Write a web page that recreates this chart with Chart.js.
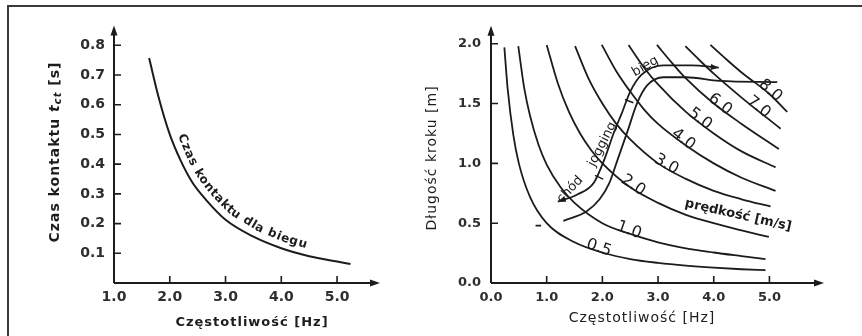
<!DOCTYPE html>
<html>
<head>
<meta charset="utf-8">
<script src="https://cdn.jsdelivr.net/npm/chart.js@4.4.0/dist/chart.umd.min.js"></script>
<style>
    html, body { margin: 0; padding: 0; background: #fff; }
    #frame { position: absolute; left: 7px; top: 5px; width: 870px; height: 350px; border-top: 2px solid #3a3a3a; border-left: 2px solid #3a3a3a; }
    #wykresKontakt { position: absolute; left: 10px; top: 8px; }
    #wykresKrok { position: absolute; left: 420px; top: 8px; }
</style>
</head>
<body>
<div id="frame"></div>
<canvas id="wykresKontakt" width="410" height="328"></canvas>
<canvas id="wykresKrok" width="442" height="328"></canvas>
<script>
// --- dane: czas kontaktu (lewy wykres) ---
const czestKontakt = [1.63, 1.8, 2.0, 2.2, 2.4, 2.65, 3.0, 3.5, 4.0, 4.5, 5.0, 5.24];
const czasKontaktu = [0.757, 0.625, 0.5, 0.41, 0.34, 0.28, 0.213, 0.156, 0.117, 0.09, 0.072, 0.064];
const lewyTicksX = [1, 2, 3, 4, 5];
const lewyTicksY = [0.1, 0.2, 0.3, 0.4, 0.5, 0.6, 0.7, 0.8];

// --- dane: dlugosc kroku dla stalych predkosci (prawy wykres), pary [Hz, m] ---
const v05 = [[0.24, 1.97], [0.3, 1.62], [0.4, 1.24], [0.5, 1.0], [0.7, 0.72], [1.0, 0.5], [1.5, 0.34], [2.0, 0.255], [2.5, 0.2], [3.0, 0.168], [3.5, 0.145], [4.0, 0.128], [4.5, 0.115], [4.93, 0.107]];
const v10 = [[0.49, 1.98], [0.6, 1.62], [0.7, 1.4], [0.85, 1.16], [1.0, 0.99], [1.25, 0.8], [1.5, 0.67], [2.0, 0.5], [2.5, 0.41], [3.0, 0.34], [3.5, 0.29], [4.0, 0.255], [4.5, 0.225], [4.93, 0.2]];
const v20 = [[1.0, 1.99], [1.2, 1.67], [1.4, 1.43], [1.6, 1.25], [1.8, 1.11], [2.0, 1.0], [2.5, 0.8], [3.0, 0.67], [3.5, 0.57], [4.0, 0.5], [4.5, 0.44], [4.99, 0.385]];
const v30 = [[1.51, 1.98], [1.75, 1.71], [2.0, 1.5], [2.25, 1.33], [2.5, 1.2], [3.0, 1.0], [3.5, 0.87], [4.0, 0.77], [4.5, 0.7], [5.02, 0.64]];
const v40 = [[1.99, 1.99], [2.25, 1.77], [2.5, 1.6], [2.75, 1.45], [3.0, 1.33], [3.5, 1.15], [4.0, 1.0], [4.5, 0.88], [5.11, 0.77]];
const v50 = [[2.47, 1.99], [2.75, 1.8], [3.0, 1.66], [3.5, 1.43], [4.0, 1.25], [4.5, 1.1], [5.11, 0.967]];
const v60 = [[2.98, 1.99], [3.25, 1.84], [3.5, 1.71], [4.0, 1.5], [4.5, 1.33], [5.17, 1.12]];
const v70 = [[3.49, 1.98], [3.75, 1.86], [4.0, 1.75], [4.5, 1.55], [5.2, 1.29]];
const v80 = [[3.94, 1.99], [4.25, 1.86], [4.5, 1.76], [5.0, 1.58], [5.32, 1.43]];
const predkosci = ['0.5', '1.0', '2.0', '3.0', '4.0', '5.0', '6.0', '7.0', '8.0'];
const krzywePredkosci = [v05, v10, v20, v30, v40, v50, v60, v70, v80];
const czestEtykiet = [1.92, 2.46, 2.52, 3.12, 3.42, 3.72, 4.08, 4.77, 4.98];

// przejscie chod -> jogging -> bieg
const przejscieGorne = [[1.2, 0.68], [1.55, 0.74], [1.85, 0.84], [2.05, 1.05], [2.2, 1.25], [2.35, 1.42], [2.5, 1.6], [2.7, 1.74], [3.1, 1.82], [3.6, 1.82], [4.09, 1.8]];
const przejscieDolne = [[1.3, 0.52], [1.72, 0.6], [1.95, 0.7], [2.12, 0.83], [2.28, 1.04], [2.46, 1.28], [2.62, 1.5], [2.8, 1.65], [3.1, 1.72], [3.5, 1.72], [4.1, 1.69], [5.14, 1.68]];
const kreska = [[0.8, 0.48], [0.9, 0.48]];
const znacznikiFaz = [1.9, 2.44];
const prawyTicksX = [0, 1, 2, 3, 4, 5];
const prawyTicksY = [0, 0.5, 1.0, 1.5, 2.0];

const ink = '#1c1c1c';
const FONT = 'DejaVu Sans';

function strzalka(ctx, x, y, kat, dl, sz) {
    ctx.save();
    ctx.translate(x, y);
    ctx.rotate(kat);
    ctx.beginPath();
    ctx.moveTo(0, 0);
    ctx.lineTo(-dl, -sz);
    ctx.lineTo(-dl, sz);
    ctx.closePath();
    ctx.fill();
    ctx.restore();
}

// punkt na lamanej w odleglosci d od poczatku
function punktNaSciezce(pts, d) {
    let acc = 0;
    for (let i = 1; i < pts.length; i++) {
        const dx = pts[i].x - pts[i - 1].x, dy = pts[i].y - pts[i - 1].y;
        const L = Math.hypot(dx, dy);
        if (acc + L >= d || i === pts.length - 1) {
            const t = L ? (d - acc) / L : 0;
            return { x: pts[i - 1].x + dx * t, y: pts[i - 1].y + dy * t };
        }
        acc += L;
    }
}

function dystansDoX(pts, px) {
    let acc = 0;
    for (let i = 1; i < pts.length; i++) {
        const dx = pts[i].x - pts[i - 1].x, dy = pts[i].y - pts[i - 1].y;
        const L = Math.hypot(dx, dy);
        if (pts[i].x >= px) return acc + L * (px - pts[i - 1].x) / dx;
        acc += L;
    }
    return acc;
}

function tekstNaSciezce(ctx, pts, tekst, start, odstep, rozstaw) {
    let s = start;
    for (const ch of tekst) {
        const w = ctx.measureText(ch).width;
        const m = s + w / 2;
        const p = punktNaSciezce(pts, m);
        const a = punktNaSciezce(pts, m - 8), b = punktNaSciezce(pts, m + 8);
        const kat = Math.atan2(b.y - a.y, b.x - a.x);
        ctx.save();
        ctx.translate(p.x, p.y);
        ctx.rotate(kat);
        ctx.fillText(ch, -w / 2, -odstep);
        ctx.restore();
        s += w + rozstaw;
    }
}

function tekstObrocony(ctx, tekst, x, y, kat) {
    ctx.save();
    ctx.translate(x, y);
    ctx.rotate(kat);
    ctx.textAlign = 'center';
    ctx.textBaseline = 'middle';
    ctx.fillText(tekst, 0, 0);
    ctx.restore();
}

// osie ze strzalkami i kreskami podzialki do wewnatrz
const osie = {
    id: 'osie',
    afterDraw(chart, args, opts) {
        const { ctx, chartArea: a, scales: { x, y } } = chart;
        const x0 = a.left, y0 = a.bottom;
        ctx.save();
        ctx.strokeStyle = ink;
        ctx.fillStyle = ink;
        ctx.lineWidth = 2;
        ctx.beginPath();
        ctx.moveTo(x0, y0); ctx.lineTo(x0, a.top + 6);
        ctx.moveTo(x0, y0); ctx.lineTo(a.right - 6, y0);
        ctx.stroke();
        strzalka(ctx, x0, a.top, -Math.PI / 2, 10, 3.5);
        strzalka(ctx, a.right, y0, 0, 10, 3.5);
        ctx.lineWidth = 1.6;
        ctx.beginPath();
        opts.tx.forEach(v => {
            if (v === x.min) return;
            const px = x.getPixelForValue(v);
            ctx.moveTo(px, y0); ctx.lineTo(px, y0 - 7);
        });
        opts.ty.forEach(v => {
            if (v === y.min) return;
            const py = y.getPixelForValue(v);
            ctx.moveTo(x0, py); ctx.lineTo(x0 + 7, py);
        });
        ctx.stroke();
        ctx.restore();
    }
};

function skala(min, max, ticks, rozmiar, os, pad, fontCfg) {
    return {
        type: 'linear', min: min, max: max,
        grid: { display: false, drawTicks: false },
        border: { display: false },
        afterBuildTicks: s => { s.ticks = ticks.map(v => ({ value: v })); },
        afterFit: s => { if (os === 'x') s.height = rozmiar; else s.width = rozmiar; },
        ticks: { padding: pad, autoSkip: false, maxRotation: 0, color: '#2e2e2e', font: fontCfg, callback: v => v.toFixed(1) }
    };
}

// ---------- lewy wykres ----------
const opisyLewy = {
    id: 'opisyLewy',
    afterDraw(chart) {
        const ctx = chart.ctx;
        const meta = chart.getDatasetMeta(0);
        const pts = meta.data.map(p => ({ x: p.x, y: p.y }));
        ctx.save();
        ctx.fillStyle = ink;
        ctx.font = 'bold 12px ' + FONT;
        ctx.textBaseline = 'alphabetic';
        const start = dystansDoX(pts, chart.scales.x.getPixelForValue(2.03));
        tekstNaSciezce(ctx, pts, 'Czas kontaktu dla biegu', start, 7, 1);

        ctx.letterSpacing = '1px';
        ctx.font = 'bold 13px ' + FONT;
        ctx.textAlign = 'center';
        ctx.textBaseline = 'middle';
        ctx.fillText('Częstotliwość [Hz]', 242, 315);

        // tytul osi Y z indeksem
        ctx.save();
        ctx.translate(45, 144);
        ctx.rotate(-Math.PI / 2);
        ctx.textAlign = 'left';
        ctx.textBaseline = 'middle';
        const czesci = [
            ['Czas kontaktu ', 'bold 14px ' + FONT, 0],
            ['t', 'italic bold 14px ' + FONT, 0],
            ['ct', 'italic bold 10px ' + FONT, 3],
            [' [s]', 'bold 14px ' + FONT, 0]
        ];
        let szer = 0;
        czesci.forEach(c => { ctx.font = c[1]; szer += ctx.measureText(c[0]).width; });
        let px = -szer / 2;
        czesci.forEach(c => { ctx.font = c[1]; ctx.fillText(c[0], px, c[2]); px += ctx.measureText(c[0]).width; });
        ctx.restore();
        ctx.restore();
    }
};

new Chart(document.getElementById('wykresKontakt').getContext('2d'), {
    type: 'scatter',
    data: {
        datasets: [{
            data: czestKontakt.map((f, i) => ({ x: f, y: czasKontaktu[i] })),
            showLine: true,
            borderColor: ink,
            borderWidth: 2,
            pointRadius: 0,
            cubicInterpolationMode: 'monotone'
        }]
    },
    options: {
        responsive: false,
        animation: false,
        layout: { padding: { left: 0, top: 15, right: 40, bottom: 0 } },
        plugins: { legend: { display: false }, tooltip: { enabled: false }, osie: { tx: lewyTicksX, ty: lewyTicksY } },
        scales: {
            x: skala(1, 5.77, lewyTicksX, 53, 'x', 6, { family: FONT, size: 14, weight: 'bold' }),
            y: skala(0, 0.867, lewyTicksY, 104, 'y', 9, { family: FONT, size: 14, weight: 'bold' })
        }
    },
    plugins: [osie, opisyLewy]
});

// ---------- prawy wykres ----------
const opisyPrawy = {
    id: 'opisyPrawy',
    afterDraw(chart) {
        const { ctx, scales: { x, y } } = chart;
        ctx.save();
        ctx.fillStyle = ink;
        ctx.strokeStyle = ink;

        // etykiety predkosci na krzywych
        ctx.font = '16px ' + FONT;
        ctx.textAlign = 'center';
        ctx.textBaseline = 'alphabetic';
        predkosci.forEach((txt, i) => {
            const pts = chart.getDatasetMeta(i).data.map(p => ({ x: p.x, y: p.y }));
            const d = dystansDoX(pts, x.getPixelForValue(czestEtykiet[i]));
            const p = punktNaSciezce(pts, d);
            const a = punktNaSciezce(pts, d - 8), b = punktNaSciezce(pts, d + 8);
            ctx.save();
            ctx.translate(p.x, p.y);
            ctx.rotate(Math.atan2(b.y - a.y, b.x - a.x));
            ctx.fillText(txt, 0, 1);
            ctx.restore();
        });

        // strzalki i znaczniki na krzywej przejscia
        const iG = predkosci.length;
        const g = chart.getDatasetMeta(iG).data.map(p => ({ x: p.x, y: p.y }));
        strzalka(ctx, g[0].x, g[0].y, Math.atan2(g[0].y - g[1].y, g[0].x - g[1].x), 8, 3);
        const n = g.length - 1;
        strzalka(ctx, g[n].x, g[n].y, Math.atan2(g[n].y - g[n - 1].y, g[n].x - g[n - 1].x), 8, 3);
        ctx.lineWidth = 1.5;
        znacznikiFaz.forEach(f => {
            const d = dystansDoX(g, x.getPixelForValue(f));
            const p = punktNaSciezce(g, d);
            const a = punktNaSciezce(g, d - 6), b = punktNaSciezce(g, d + 6);
            const kat = Math.atan2(b.y - a.y, b.x - a.x) + Math.PI / 2;
            ctx.beginPath();
            ctx.moveTo(p.x - Math.cos(kat) * 2, p.y - Math.sin(kat) * 2);
            ctx.lineTo(p.x + Math.cos(kat) * 7, p.y + Math.sin(kat) * 7);
            ctx.stroke();
        });

        ctx.font = '13px ' + FONT;
        tekstObrocony(ctx, 'chód', x.getPixelForValue(1.42), y.getPixelForValue(0.78), -47 * Math.PI / 180);
        tekstObrocony(ctx, 'jogging', x.getPixelForValue(2.0), y.getPixelForValue(1.16), -63 * Math.PI / 180);
        tekstObrocony(ctx, 'bieg', x.getPixelForValue(2.77), y.getPixelForValue(1.81), -30 * Math.PI / 180);
        ctx.font = 'bold 13px ' + FONT;
        tekstObrocony(ctx, 'prędkość [m/s]', x.getPixelForValue(4.44), y.getPixelForValue(0.566), 12.7 * Math.PI / 180);

        ctx.letterSpacing = '1px';
        ctx.font = '14px ' + FONT;
        tekstObrocony(ctx, 'Częstotliwość [Hz]', 222, 310, 0);
        tekstObrocony(ctx, 'Długość kroku [m]', 12, 150, -Math.PI / 2);
        ctx.restore();
    }
};

const liniaCfg = (pary) => ({
    data: pary.map(p => ({ x: p[0], y: p[1] })),
    showLine: true,
    borderColor: ink,
    borderWidth: 1.8,
    pointRadius: 0,
    cubicInterpolationMode: 'monotone'
});

new Chart(document.getElementById('wykresKrok').getContext('2d'), {
    type: 'scatter',
    data: {
        datasets: krzywePredkosci.map(liniaCfg)
            .concat([liniaCfg(przejscieGorne), liniaCfg(przejscieDolne), liniaCfg(kreska)])
    },
    options: {
        responsive: false,
        animation: false,
        layout: { padding: { left: 0, top: 13, right: 38, bottom: 0 } },
        plugins: { legend: { display: false }, tooltip: { enabled: false }, osie: { tx: prawyTicksX, ty: prawyTicksY } },
        scales: {
            x: skala(0, 5.98, prawyTicksX, 53, 'x', 7, { family: FONT, size: 13, weight: 'bold' }),
            y: skala(0, 2.15, prawyTicksY, 71, 'y', 10, { family: FONT, size: 13, weight: 'bold' })
        }
    },
    plugins: [osie, opisyPrawy]
});
</script>
</body>
</html>
